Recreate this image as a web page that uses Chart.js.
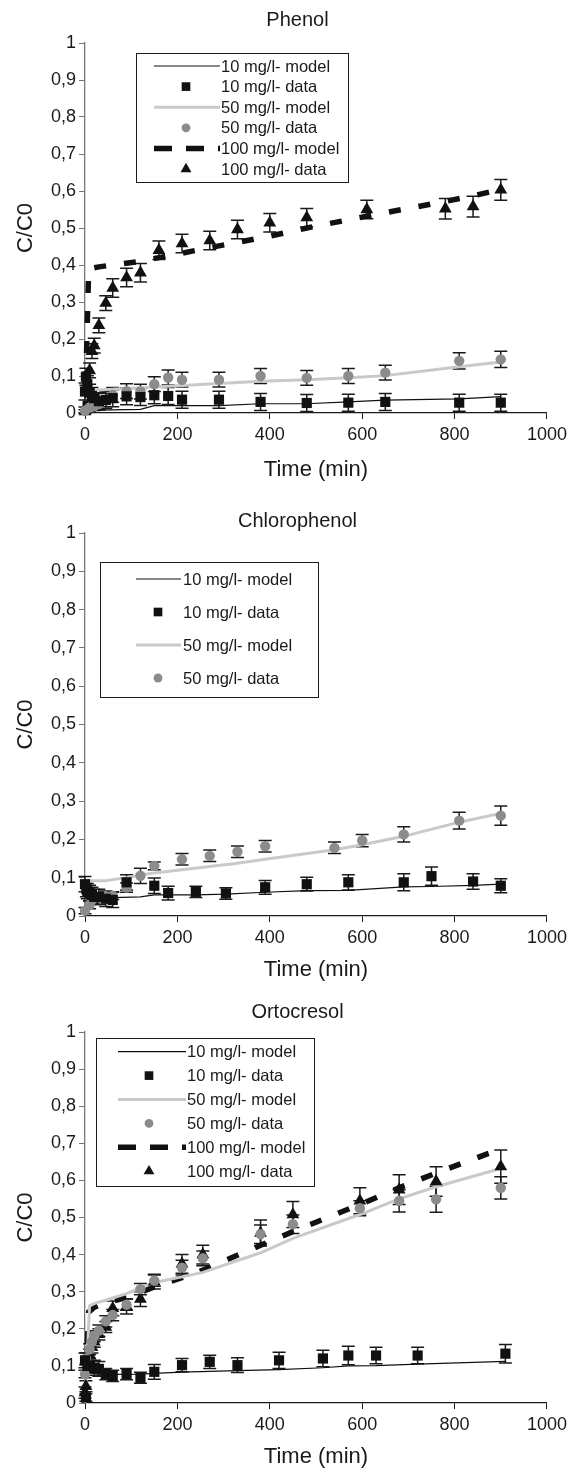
<!DOCTYPE html>
<html>
<head>
<meta charset="utf-8">
<script src="https://cdn.jsdelivr.net/npm/chart.js@4.4.1/dist/chart.umd.min.js"></script>
<style>
  html, body { margin: 0; padding: 0; background: #fff; }
  body { width: 572px; height: 1470px; position: relative; overflow: hidden; }
  .panel { position: absolute; left: 0; width: 572px; }
</style>
</head>
<body>
<div class="panel" style="top:0;height:490px"><canvas id="phenol"></canvas></div>
<div class="panel" style="top:490px;height:495px"><canvas id="chloro"></canvas></div>
<div class="panel" style="top:989px;height:481px"><canvas id="orto"></canvas></div>

<script>
// tick labels and legend labels
const xTickLabels = ['0', '200', '400', '600', '800', '1000'];
const yTickLabels = ['0', '0,1', '0,2', '0,3', '0,4', '0,5', '0,6', '0,7', '0,8', '0,9', '1'];
const seriesLabels = ['10 mg/l- model', '10 mg/l- data', '50 mg/l- model', '50 mg/l- data', '100 mg/l- model', '100 mg/l- data'];

// Phenol: [time, C/C0, error]
const phenolData10 = [[0,0.058,0.023],[2,0.098,0.023],[5,0.078,0.023],[10,0.055,0.023],[15,0.046,0.023],[20,0.04,0.023],[30,0.032,0.023],[45,0.035,0.023],[60,0.04,0.023],[90,0.045,0.023],[120,0.043,0.023],[150,0.048,0.023],[180,0.046,0.023],[210,0.036,0.023],[290,0.036,0.023],[380,0.03,0.023],[480,0.027,0.023],[570,0.028,0.023],[650,0.03,0.023],[810,0.028,0.023],[900,0.028,0.023]];
const phenolData50 = [[0,0.006,0.01],[10,0.015,0.012],[20,0.019,0.012],[30,0.024,0.015],[45,0.035,0.018],[60,0.049,0.02],[90,0.059,0.02],[120,0.058,0.02],[150,0.078,0.02],[180,0.096,0.02],[210,0.09,0.02],[290,0.09,0.02],[380,0.1,0.02],[480,0.095,0.02],[570,0.1,0.02],[650,0.109,0.02],[810,0.141,0.022],[900,0.145,0.022]];
const phenolData100 = [[0,0.004,0.005],[10,0.115,0.02],[15,0.167,0.02],[20,0.182,0.02],[30,0.237,0.02],[45,0.297,0.02],[60,0.338,0.025],[90,0.366,0.025],[120,0.379,0.025],[160,0.44,0.025],[210,0.458,0.025],[270,0.466,0.025],[330,0.496,0.025],[400,0.514,0.025],[480,0.528,0.025],[610,0.55,0.025],[780,0.552,0.028],[840,0.558,0.028],[900,0.603,0.028]];
const phenolModel10 = [[0,0.005],[30,0.008],[120,0.01],[150,0.02],[290,0.02],[380,0.025],[480,0.025],[570,0.03],[650,0.035],[810,0.038],[900,0.044]];
const phenolModel50 = [[0,0.058],[30,0.062],[90,0.066],[150,0.07],[210,0.074],[290,0.08],[380,0.086],[480,0.09],[570,0.095],[650,0.101],[810,0.125],[900,0.138]];
const phenolModel100 = [[0,0],[8,0.39],[30,0.395],[60,0.4],[120,0.41],[160,0.42],[210,0.432],[270,0.447],[330,0.461],[400,0.478],[480,0.5],[610,0.532],[780,0.572],[840,0.587],[900,0.604]];

// Chlorophenol
const chloroData10 = [[0,0.083,0.02],[3,0.07,0.02],[5,0.065,0.02],[10,0.06,0.02],[15,0.055,0.02],[20,0.05,0.02],[30,0.05,0.02],[45,0.045,0.02],[60,0.042,0.02],[90,0.088,0.02],[150,0.079,0.02],[180,0.06,0.018],[240,0.063,0.015],[305,0.059,0.015],[390,0.075,0.018],[480,0.083,0.018],[570,0.088,0.02],[690,0.088,0.022],[750,0.104,0.024],[840,0.09,0.02],[900,0.079,0.018]];
const chloroData50 = [[0,0.014,0.008],[10,0.029,0.01],[15,0.042,0.01],[30,0.049,0.01],[45,0.052,0.01],[60,0.053,0.01],[90,0.074,0.012],[120,0.105,0.02],[150,0.131,0.01],[210,0.148,0.015],[270,0.157,0.015],[330,0.168,0.015],[390,0.182,0.015],[540,0.178,0.015],[600,0.197,0.016],[690,0.213,0.02],[810,0.249,0.022],[900,0.262,0.025]];
const chloroModel10 = [[0,0.05],[60,0.048],[120,0.05],[150,0.055],[240,0.055],[305,0.057],[390,0.062],[480,0.066],[570,0.067],[690,0.076],[750,0.077],[840,0.08],[900,0.083]];
const chloroModel50 = [[0,0.092],[45,0.092],[60,0.095],[90,0.1],[120,0.107],[150,0.112],[210,0.121],[270,0.129],[330,0.138],[390,0.148],[540,0.173],[600,0.186],[690,0.208],[810,0.245],[900,0.268]];

// Ortocresol
const ortoData10 = [[0,0.115,0.02],[2,0.015,0.01],[5,0.1,0.02],[10,0.1,0.02],[20,0.095,0.02],[30,0.092,0.02],[45,0.078,0.015],[60,0.073,0.015],[90,0.078,0.015],[120,0.068,0.015],[150,0.084,0.02],[210,0.102,0.018],[270,0.111,0.018],[330,0.102,0.02],[420,0.115,0.022],[515,0.12,0.022],[570,0.128,0.025],[630,0.128,0.022],[720,0.128,0.022],[910,0.133,0.025]];
const ortoData50 = [[0,0.078,0.01],[2,0.12,0.015],[10,0.145,0.015],[15,0.165,0.015],[20,0.18,0.015],[30,0.195,0.015],[45,0.22,0.015],[60,0.237,0.015],[90,0.265,0.015],[120,0.307,0.015],[150,0.33,0.015],[210,0.365,0.02],[255,0.39,0.02],[380,0.455,0.025],[450,0.482,0.025],[595,0.525,0.02],[680,0.545,0.03],[760,0.549,0.035],[900,0.58,0.03]];
const ortoData100 = [[0,0.028,0.015],[2,0.045,0.015],[10,0.13,0.015],[15,0.15,0.015],[20,0.165,0.015],[30,0.185,0.015],[45,0.205,0.015],[60,0.255,0.02],[90,0.26,0.02],[120,0.28,0.02],[150,0.327,0.02],[210,0.375,0.025],[255,0.4,0.025],[380,0.458,0.035],[450,0.508,0.035],[595,0.545,0.035],[680,0.575,0.04],[760,0.597,0.04],[900,0.637,0.045]];
const ortoModel10 = [[0,0.1],[10,0.085],[20,0.08],[30,0.078],[60,0.077],[120,0.078],[150,0.08],[210,0.083],[270,0.085],[330,0.087],[420,0.09],[515,0.095],[570,0.1],[630,0.101],[720,0.105],[910,0.112]];
const ortoModel50 = [[0,0],[10,0.262],[20,0.268],[30,0.272],[45,0.277],[60,0.283],[90,0.295],[120,0.31],[150,0.325],[210,0.34],[255,0.352],[380,0.405],[450,0.444],[595,0.508],[680,0.55],[760,0.583],[900,0.632]];
const ortoModel100 = [[0,0],[8,0.245],[20,0.258],[30,0.263],[45,0.27],[60,0.275],[90,0.284],[120,0.298],[150,0.313],[210,0.338],[255,0.358],[380,0.425],[450,0.462],[595,0.535],[680,0.58],[760,0.62],[900,0.685]];

const FONT = '"Liberation Sans", Arial, Helvetica, sans-serif';
const INK = '#1a1a1a';

const lineStyles = {
  10: { borderColor: '#111', borderWidth: 1.2, borderDash: [] },
  50: { borderColor: '#c9c9c9', borderWidth: 3, borderDash: [] },
  100: { borderColor: '#111', borderWidth: 5.5, borderDash: [12, 18] }
};
const markerStyles = {
  10: { pointStyle: 'rect', pointRadius: 7.2, backgroundColor: '#111' },
  50: { pointStyle: 'circle', pointRadius: 5.2, backgroundColor: '#8c8c8c' },
  100: { pointStyle: 'triangle', pointRadius: 7.4, backgroundColor: '#111' }
};

function modelSet(label, rows, conc) {
  const s = lineStyles[conc];
  return {
    label, data: rows.map(r => ({ x: r[0], y: r[1] })),
    showLine: true, pointRadius: 0, pointHoverRadius: 0, tension: 0, fill: false,
    borderColor: s.borderColor, borderWidth: s.borderWidth, borderDash: s.borderDash,
    borderCapStyle: 'butt', order: 2, clip: false
  };
}

function pointSet(label, rows, conc) {
  const s = markerStyles[conc];
  return {
    label, data: rows.map(r => ({ x: r[0], y: r[1], e: r[2] })),
    showLine: false, pointStyle: s.pointStyle, pointRadius: s.pointRadius,
    pointBackgroundColor: s.backgroundColor, backgroundColor: s.backgroundColor,
    pointBorderWidth: 0, borderColor: s.backgroundColor, errorBars: true, order: 1, clip: false
  };
}

// vertical error bars with caps, drawn behind the markers
const errorBars = {
  id: 'errorBars',
  beforeDatasetsDraw(chart) {
    const { ctx, scales: { x, y } } = chart;
    ctx.save();
    ctx.strokeStyle = INK;
    ctx.lineWidth = 1.5;
    chart.data.datasets.forEach(ds => {
      if (!ds.errorBars) return;
      ds.data.forEach(p => {
        if (!p.e) return;
        const px = x.getPixelForValue(p.x);
        const top = y.getPixelForValue(p.y + p.e);
        const bot = y.getPixelForValue(Math.max(0, p.y - p.e));
        ctx.beginPath();
        ctx.moveTo(px, top); ctx.lineTo(px, bot);
        ctx.moveTo(px - 6.5, top); ctx.lineTo(px + 6.5, top);
        ctx.moveTo(px - 6.5, bot); ctx.lineTo(px + 6.5, bot);
        ctx.stroke();
      });
    });
    ctx.restore();
  }
};

// boxed legend inside the plot, Excel style
const boxLegend = {
  id: 'boxLegend',
  afterDraw(chart, args, opts) {
    const { ctx } = chart;
    const b = opts.box;
    ctx.save();
    ctx.fillStyle = '#fff';
    ctx.fillRect(b.x, b.y, b.w, b.h);
    ctx.strokeStyle = INK;
    ctx.lineWidth = 1;
    ctx.strokeRect(b.x + 0.5, b.y + 0.5, b.w, b.h);
    ctx.font = opts.fontSize + 'px ' + FONT;
    ctx.textBaseline = 'middle';
    chart.data.datasets.forEach((ds, i) => {
      const yy = opts.firstRow + i * opts.rowStep;
      if (ds.showLine) {
        ctx.save();
        ctx.strokeStyle = ds.borderColor;
        ctx.lineWidth = ds.borderWidth;
        ctx.setLineDash(ds.borderDash.length ? [18, 14] : []);
        ctx.beginPath();
        ctx.moveTo(opts.lineX1, yy);
        ctx.lineTo(opts.lineX2, yy);
        ctx.stroke();
        ctx.restore();
      } else {
        ctx.fillStyle = ds.backgroundColor;
        Chart.helpers.drawPoint(ctx, { pointStyle: ds.pointStyle, radius: ds.pointRadius * 0.85, rotation: 0, borderWidth: 0 }, opts.markerX, yy);
      }
      ctx.fillStyle = INK;
      ctx.fillText(ds.label, opts.textX, yy + 1);
    });
    ctx.restore();
  }
};

// shift the chart title to sit where the original has it
const titleShift = {
  id: 'titleShift',
  afterLayout(chart, args, opts) {
    const t = chart.titleBlock;
    if (t) { t.left += opts.dx; t.right += opts.dx; }
  }
};

function makeChart(id, title, datasets, lay, legend) {
  return new Chart(document.getElementById(id), {
    type: 'scatter',
    data: { datasets },
    plugins: [errorBars, boxLegend, titleShift],
    options: {
      responsive: true,
      maintainAspectRatio: false,
      animation: false,
      layout: { padding: { top: lay.padTop, right: 25, bottom: 0, left: 0 } },
      plugins: {
        legend: { display: false },
        tooltip: { enabled: false },
        title: {
          display: true, text: title, color: INK,
          font: { family: FONT, size: 20, weight: 'normal', lineHeight: 1.2 },
          padding: { top: 0, bottom: lay.titleGap }
        },
        titleShift: { dx: 24 },
        boxLegend: legend
      },
      scales: {
        x: {
          type: 'linear', min: 0, max: 1000,
          afterFit(axis) { axis.height = lay.xAxisHeight; },
          border: { display: true, color: INK, width: 1.3 },
          grid: { drawOnChartArea: false, drawTicks: true, tickLength: 6, color: INK, tickColor: INK },
          ticks: {
            stepSize: 200, padding: 5, color: INK, maxRotation: 0,
            font: { family: FONT, size: 18 },
            callback: (v, i) => xTickLabels[i]
          },
          title: {
            display: true, text: 'Time (min)', color: INK,
            font: { family: FONT, size: 22, lineHeight: 1.2 },
            padding: { top: 0, bottom: lay.xTitlePad }
          }
        },
        y: {
          type: 'linear', min: 0, max: 1,
          afterFit(axis) { axis.width = 85; },
          border: { display: true, color: '#777', width: 1.3 },
          grid: { drawOnChartArea: false, drawTicks: true, tickLength: 6, color: '#777', tickColor: '#777' },
          ticks: {
            stepSize: 0.1, padding: 3, color: INK,
            font: { family: FONT, size: 18 },
            callback: (v, i) => yTickLabels[i]
          },
          title: {
            display: true, text: 'C/C0', color: INK,
            font: { family: FONT, size: 22, lineHeight: 1.2 },
            padding: { top: 13, bottom: 0 }
          }
        }
      }
    }
  });
}

makeChart('phenol', 'Phenol', [
  modelSet(seriesLabels[0], phenolModel10, 10),
  pointSet(seriesLabels[1], phenolData10, 10),
  modelSet(seriesLabels[2], phenolModel50, 50),
  pointSet(seriesLabels[3], phenolData50, 50),
  modelSet(seriesLabels[4], phenolModel100, 100),
  pointSet(seriesLabels[5], phenolData100, 100)
], { padTop: 8, titleGap: 11, xAxisHeight: 77, xTitlePad: 7 },
{ box: { x: 136, y: 53, w: 212, h: 129 }, firstRow: 66, rowStep: 20.6, lineX1: 154, lineX2: 220, markerX: 186, textX: 221, fontSize: 16.5 });

makeChart('chloro', 'Chlorophenol', [
  modelSet(seriesLabels[0], chloroModel10, 10),
  pointSet(seriesLabels[1], chloroData10, 10),
  modelSet(seriesLabels[2], chloroModel50, 50),
  pointSet(seriesLabels[3], chloroData50, 50)
], { padTop: 19, titleGap: 0, xAxisHeight: 69, xTitlePad: 2 },
{ box: { x: 100, y: 72, w: 218, h: 135 }, firstRow: 89, rowStep: 33, lineX1: 136, lineX2: 181, markerX: 158, textX: 183, fontSize: 16.5 });

makeChart('orto', 'Ortocresol', [
  modelSet(seriesLabels[0], ortoModel10, 10),
  pointSet(seriesLabels[1], ortoData10, 10),
  modelSet(seriesLabels[2], ortoModel50, 50),
  pointSet(seriesLabels[3], ortoData50, 50),
  modelSet(seriesLabels[4], ortoModel100, 100),
  pointSet(seriesLabels[5], ortoData100, 100)
], { padTop: 11, titleGap: 8, xAxisHeight: 67, xTitlePad: 0 },
{ box: { x: 96, y: 49, w: 218, h: 148 }, firstRow: 62.7, rowStep: 23.9, lineX1: 118, lineX2: 186, markerX: 149, textX: 187, fontSize: 16.5 });
</script>
</body>
</html>
